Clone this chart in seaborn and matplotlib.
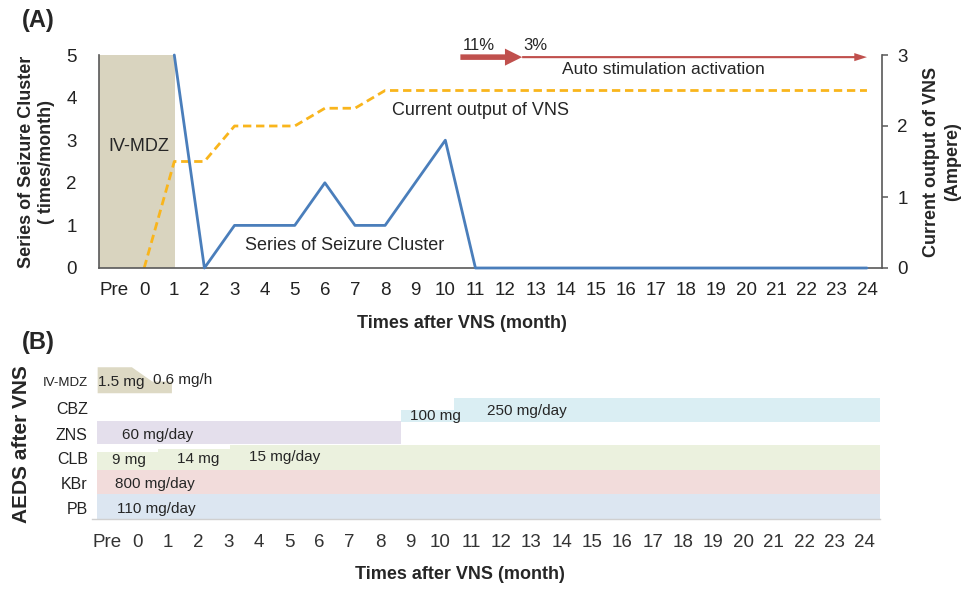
import matplotlib
matplotlib.use("Agg")
import matplotlib.pyplot as plt
import seaborn as sns
import pandas as pd
from matplotlib.patches import FancyArrow

# ---------------------------------------------------------------- data
# month axis: "Pre" sits at -1, then months 0..24 after VNS implantation
month_pos = list(range(-1, 25))
month_labels = ["Pre"] + [str(m) for m in range(25)]

# (A) seizure clusters per month (left axis)
seizure_months = list(range(1, 25))
seizure_counts = [5, 0, 1, 1, 1, 2, 1, 1, 2, 3, 0, 0,
                  0, 0, 0, 0, 0, 0, 0, 0, 0, 0, 0, 0]

# (A) VNS output current (right axis)
vns_months = list(range(0, 25))
vns_current = [0, 1.5, 1.5, 2, 2, 2, 2.25, 2.25, 2.5, 2.5, 2.5, 2.5, 2.5,
               2.5, 2.5, 2.5, 2.5, 2.5, 2.5, 2.5, 2.5, 2.5, 2.5, 2.5, 2.5]

# (A) IV midazolam period and duty-cycle / auto-stimulation arrow
mdz_span = (-1.5, 1.03)
duty_labels = ["11%", "3%"]
duty_steps = [10.5, 12.55, 24.0]

# (B) antiepileptic drug schedule
drug_rows = ["PB", "KBr", "CLB", "ZNS", "CBZ", "IV-MDZ"]
seg_drug = ["PB", "KBr", "CLB", "CLB", "CLB", "ZNS", "CBZ", "CBZ"]
seg_start = [-1.33, -1.33, -1.33, 0.68, 3.05, -1.33, 8.7, 10.45]
seg_end = [24.55, 24.55, 0.68, 3.05, 24.55, 8.7, 10.45, 24.55]
seg_dose = ["110 mg/day", "800 mg/day", "9 mg", "14 mg", "15 mg/day",
            "60 mg/day", "100 mg", "250 mg/day"]
mdz_x = [-1.33, -0.2, 0.47, 1.12]
mdz_dose = ["1.5 mg", "0.6 mg/h"]

# ---------------------------------------------------------------- style
sns.set_theme(style="white")
plt.rcParams["font.family"] = ["Liberation Sans", "DejaVu Sans"]
plt.rcParams["axes.unicode_minus"] = False

BLUE = "#4a7ebb"
ORANGE = "#f9b51c"
RED = "#c0504d"
TAN = "#d9d4bf"
DARK = "#595959"
drug_colors = {"PB": "#dce6f1", "KBr": "#f2dcdb", "CLB": "#ebf1de",
               "ZNS": "#e4dfec", "CBZ": "#daeef3", "IV-MDZ": "#ddd9c4"}

fig = plt.figure(figsize=(9.64, 5.91), dpi=100)

# ================================================================ panel A
axA = fig.add_axes([99 / 964, 1 - 268 / 591, 783 / 964, 213 / 591])
axA2 = axA.twinx()

# IV-MDZ shading lives on the current axis so the dashed line is drawn over it
axA2.fill_between(list(mdz_span), 0, 3, color=TAN, linewidth=0, zorder=1)

vn = pd.DataFrame({"month": vns_months, "current": vns_current})
sns.lineplot(data=vn, x="month", y="current", ax=axA2, color=ORANGE,
             linewidth=2.0, zorder=3)
axA2.lines[-1].set_dashes([3.0, 1.7])

sz = pd.DataFrame({"month": seizure_months, "count": seizure_counts})
sns.lineplot(data=sz, x="month", y="count", ax=axA, color=BLUE,
             linewidth=2.0, zorder=4, clip_on=False)

axA.set_xlim(-1.5, 24.5)
axA2.set_xlim(-1.5, 24.5)
axA.set_ylim(0, 5)
axA2.set_ylim(0, 3)
axA.set_xticks(month_pos)
axA.set_xticklabels(month_labels)
axA.set_xticks([p - 0.5 for p in month_pos] + [24.5], minor=True)
axA.tick_params(axis="x", which="major", length=0, pad=10, labelsize=13.5,
                colors="#222222")
axA.tick_params(axis="x", which="minor", length=5, width=1.1, color=DARK,
                direction="out")
axA.set_yticks(range(6))
axA.tick_params(axis="y", length=0, pad=16, labelsize=13.5, colors="#222222")
axA2.set_yticks(range(4))
axA2.tick_params(axis="y", length=4, width=1.1, color=DARK, direction="out",
                 pad=7, labelsize=13.5, labelcolor="#222222")

for ax in (axA, axA2):
    ax.set_facecolor("none")
    ax.spines["top"].set_visible(False)
    for s in ("left", "right", "bottom"):
        ax.spines[s].set_color(DARK)
        ax.spines[s].set_linewidth(1.2)
axA.spines["right"].set_visible(False)
axA2.spines["left"].set_visible(False)
axA2.spines["bottom"].set_visible(False)
axA.set_zorder(axA2.get_zorder() + 1)

axA.set_xlabel("Times after VNS (month)", fontsize=13, fontweight="bold")
axA.xaxis.set_label_coords(0.463, -0.22)
axA.set_ylabel("Series of Seizure Cluster\n( times/month)", fontsize=13,
               fontweight="bold", linespacing=1.25)
axA.yaxis.set_label_coords(-0.056, 0.5)
axA2.set_ylabel("Current output of VNS\n(Ampere)", fontsize=13,
                fontweight="bold", linespacing=1.25)
axA2.yaxis.set_label_coords(1.053, 0.5)

axA.text(-1.2, 2.86, "IV-MDZ", fontsize=13, va="center", ha="left", zorder=5)
axA.text(8.23, 3.69, "Current output of VNS", fontsize=13, va="center",
         ha="left", zorder=5)
axA.text(3.35, 0.52, "Series of Seizure Cluster", fontsize=13, va="center",
         ha="left", zorder=5)

# duty cycle arrow: thick 11% segment, then thin auto-stimulation segment
axA.add_patch(FancyArrow(duty_steps[0], 4.95, duty_steps[1] - duty_steps[0], 0,
                         width=0.13, head_width=0.40, head_length=0.57,
                         length_includes_head=True, color=RED, linewidth=0,
                         clip_on=False, zorder=5))
axA.add_patch(FancyArrow(duty_steps[1], 4.95, duty_steps[2] - duty_steps[1], 0,
                         width=0.05, head_width=0.19, head_length=0.42,
                         length_includes_head=True, color=RED, linewidth=0,
                         clip_on=False, zorder=5))
axA.text(10.59, 5.22, duty_labels[0], fontsize=12, ha="left", va="center",
         clip_on=False)
axA.text(12.58, 5.22, duty_labels[1], fontsize=12, ha="left", va="center",
         clip_on=False)
axA.text(17.23, 4.65, "Auto stimulation activation", fontsize=12.5,
         ha="center", va="center")

fig.text(22 / 964, 1 - 20 / 591, "(A)", fontsize=17, fontweight="bold",
         ha="left", va="center")

# ================================================================ panel B
axB = fig.add_axes([92 / 964, 1 - 519 / 591, 788 / 964, 153 / 591])

# segment geometry (row units; each dose step changes the band height)
seg_bottom = [0.0, 1.0, 1.96, 1.96, 1.96, 2.99, 3.9, 3.9]
seg_top = [1.0, 1.96, 2.68, 2.8, 2.96, 3.93, 4.36, 4.83]
seg_text_x = [-0.67, -0.74, -0.84, 1.3, 3.68, -0.51, 9.0, 11.54]
seg_text_y = [0.4, 1.4, 2.36, 2.4, 2.48, 3.36, 4.12, 4.32]

for d, x0, x1, b, t in zip(seg_drug, seg_start, seg_end, seg_bottom, seg_top):
    axB.barh(b, x1 - x0, left=x0, height=t - b, align="edge",
             color=drug_colors[d], linewidth=0, zorder=1)
for txt, tx, ty in zip(seg_dose, seg_text_x, seg_text_y):
    axB.text(tx, ty, txt, fontsize=11, ha="left", va="center", zorder=3)

axB.fill_between(mdz_x, 5.05, [6.09, 6.09, 5.52, 5.52],
                 color=drug_colors["IV-MDZ"], linewidth=0, zorder=1)
axB.text(-1.3, 5.48, mdz_dose[0], fontsize=11, ha="left", va="center")
axB.text(0.51, 5.56, mdz_dose[1], fontsize=11, ha="left", va="center")

axB.set_xlim(-1.5, 24.5)
axB.set_ylim(0, 6.12)
axB.set_xticks(month_pos)
axB.set_xticklabels(month_labels)
axB.set_xticks([p - 0.5 for p in month_pos] + [24.5], minor=True)
axB.tick_params(axis="x", which="major", length=0, pad=11, labelsize=13.5,
                colors="#333333")
axB.tick_params(axis="x", which="minor", length=4, width=1.0,
                color="#d0d0d0", direction="out")
row_y = [0.44, 1.44, 2.44, 3.4, 4.44, 5.52]
axB.set_yticks(row_y)
axB.set_yticklabels(drug_rows)
axB.tick_params(axis="y", length=0, pad=3, labelsize=11.5, colors="#222222")
axB.get_yticklabels()[-1].set_fontsize(9.5)
for s in ("left", "right", "top"):
    axB.spines[s].set_visible(False)
axB.spines["bottom"].set_color("#d0d0d0")
axB.spines["bottom"].set_linewidth(1.0)
axB.set_facecolor("none")

axB.set_xlabel("Times after VNS (month)", fontsize=13, fontweight="bold")
axB.xaxis.set_label_coords(0.467, -0.31)
axB.set_ylabel("AEDS after VNS", fontsize=15, fontweight="bold")
axB.yaxis.set_label_coords(-0.078, 0.49)

fig.text(22 / 964, 1 - 343 / 591, "(B)", fontsize=17, fontweight="bold",
         ha="left", va="center")

fig.savefig("out.png", dpi=100)
